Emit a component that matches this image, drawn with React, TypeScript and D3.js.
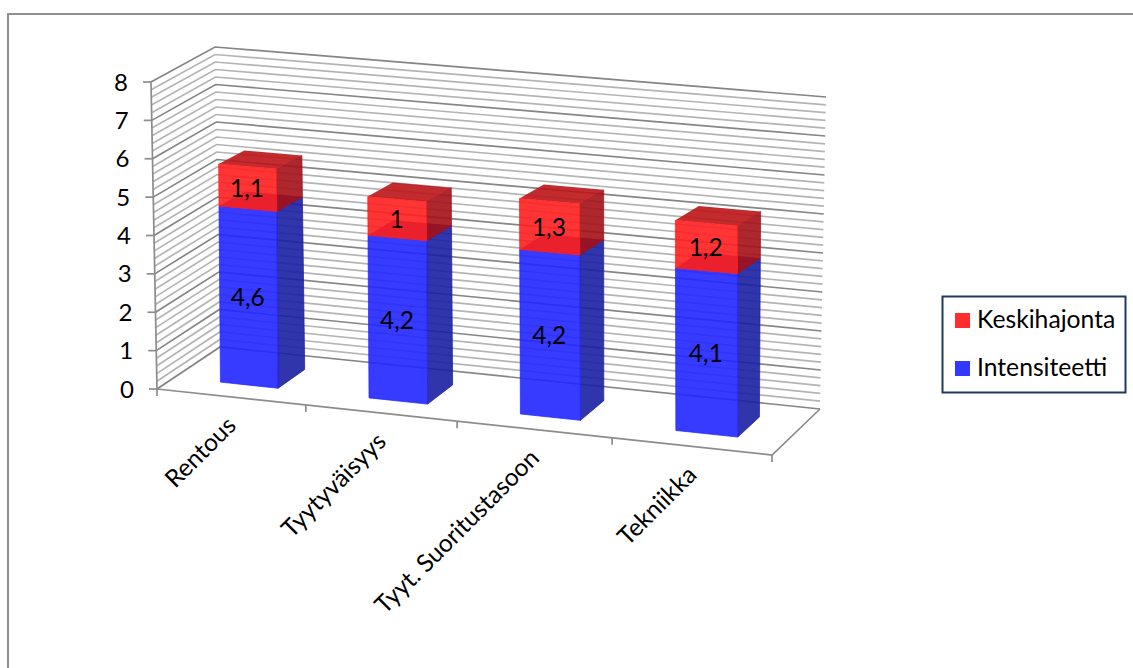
import React from "react";
import * as d3 from "d3";

// Chart values
const categories = ["Rentous", "Tyytyväisyys", "Tyyt. Suoritustasoon", "Tekniikka"];
const intensiteetti = [4.6, 4.2, 4.2, 4.1];
const keskihajonta = [1.1, 1, 1.3, 1.2];
const valueTicks = [0, 1, 2, 3, 4, 5, 6, 7, 8];
const minorTicks = d3.range(0, 8.01, 0.2);
const categoryStops = [0, 1, 2, 3, 4];
const categoryFractions = [0, 0.242, 0.488, 0.74, 1];

const FONT = "Lato, 'Open Sans', sans-serif";
const WIDTH = 1133;
const HEIGHT = 668;

type Pt = [number, number];

// Corners of the 3D box on screen: floor and ceiling planes, front and back.
const floor = { fl: [157, 389] as Pt, fr: [772, 455] as Pt, bl: [220, 347] as Pt, br: [820, 409] as Pt };
const ceil = { fl: [151, 82] as Pt, fr: [765, 132] as Pt, bl: [215, 47] as Pt, br: [826, 97] as Pt };

const slotScale = d3.scaleLinear().domain(categoryStops).range(categoryFractions);
const heightScale = d3.scaleLinear().domain([0, 8]).range([0, 1]);
const mix = (a: number, b: number, t: number) => a + (b - a) * t;
const mixPt = (a: Pt, b: Pt, t: number): Pt => [mix(a[0], b[0], t), mix(a[1], b[1], t)];

const onPlane = (p: typeof floor, u: number, d: number): Pt =>
  mixPt(mixPt(p.fl, p.fr, u), mixPt(p.bl, p.br, u), d);

// Maps (category position, value, depth 0..1) onto the screen.
function project(slot: number, value: number, depth: number): Pt {
  const u = slotScale(slot);
  return mixPt(onPlane(floor, u, depth), onPlane(ceil, u, depth), heightScale(value));
}

const BAR_FROM = 0.31;
const BAR_TO = 0.7;
const DEPTH_FRONT = 0.28;
const DEPTH_BACK = 0.72;

// Bars stand more upright than the walls, and their depth shrinks towards the top.
const FRONT_LEAN = 3;
const BACK_DROP = 4;
function barPoint(slot: number, value: number, depth: number): Pt {
  const [x, y] = project(slot, value, depth);
  const h = heightScale(value);
  return depth === DEPTH_BACK ? [x, y + BACK_DROP * h] : [x + FRONT_LEAN * h, y];
}

const line = d3.line<Pt>();
const closed = (pts: Pt[]) => line(pts) + "Z";

const palette = {
  red: { front: "#ff1f1f", side: "#a30f17", top: "#bb1518" },
  blue: { front: "#2126ff", side: "#1a1fa3", top: "#1a1fa3" },
};

function Segment({ slot, v0, v1, colors }: { slot: number; v0: number; v1: number; colors: typeof palette.red }) {
  const a = slot + BAR_FROM;
  const b = slot + BAR_TO;
  const f = DEPTH_FRONT;
  const k = DEPTH_BACK;
  return (
    <g fillOpacity={0.9} strokeOpacity={0.9} strokeWidth={0.8}>
      <path
        d={closed([barPoint(b, v0, f), barPoint(b, v0, k), barPoint(b, v1, k), barPoint(b, v1, f)])}
        fill={colors.side}
        stroke={colors.side}
      />
      <path d={closed([barPoint(a, v1, f), barPoint(b, v1, f), barPoint(b, v1, k), barPoint(a, v1, k)])} fill={colors.top} />
      <path
        d={closed([barPoint(a, v0, f), barPoint(b, v0, f), barPoint(b, v1, f), barPoint(a, v1, f)])}
        fill={colors.front}
        stroke={colors.front}
      />
    </g>
  );
}

export default function App() {
  const isMajor = (v: number) => Math.abs(v - Math.round(v)) < 1e-6;
  return (
    <svg
      width={WIDTH}
      height={HEIGHT}
      style={{ position: "absolute", left: 0, top: 0, display: "block", background: "#fff" }}
      fontFamily={FONT}
    >
      {/* outer frame */}
      <path d={line([[8, HEIGHT], [8, 14], [WIDTH, 14]] as Pt[])!} fill="none" stroke="#8f8f8f" strokeWidth={2} />

      {/* wall gridlines */}
      {minorTicks.map((v) => (
        <path
          key={v}
          d={line([project(0, v, 0), project(0, v, 1), project(4, v, 1)])!}
          fill="none"
          stroke={isMajor(v) ? "#858585" : "#b4b4b4"}
          strokeWidth={1.7}
        />
      ))}

      {/* floor edges and value axis */}
      <path d={line([project(0, 0, 0), project(4, 0, 0), project(4, 0, 1)])!} fill="none" stroke="#8c8c8c" strokeWidth={1.7} />
      <path d={line([project(0, 0, 0), project(0, 8, 0)])!} fill="none" stroke="#8c8c8c" strokeWidth={1.7} />

      {valueTicks.map((v) => {
        const [x, y] = project(0, v, 0);
        return (
          <g key={v}>
            <line x1={x - 8} x2={x} y1={y} y2={y} stroke="#8c8c8c" strokeWidth={1.7} />
            <text x={x - 37} y={y + 8.5} fontSize={24} fill="#000">
              {v}
            </text>
          </g>
        );
      })}

      {categoryStops.map((s) => {
        const [x, y] = project(s, 0, 0);
        return <line key={s} x1={x} x2={x} y1={y} y2={y + 7} stroke="#8c8c8c" strokeWidth={1.7} />;
      })}

      {/* stacked bars */}
      {categories.map((c, i) => {
        const base = intensiteetti[i];
        const total = base + keskihajonta[i];
        return (
          <g key={c}>
            <Segment slot={i} v0={0} v1={base} colors={palette.blue} />
            <Segment slot={i} v0={base} v1={total} colors={palette.red} />
          </g>
        );
      })}

      {/* value labels */}
      {categories.map((c, i) => {
        const base = intensiteetti[i];
        const total = base + keskihajonta[i];
        const mid = i + 0.5;
        const [bx, by] = barPoint(mid, base / 2, DEPTH_FRONT);
        const [rx, ry] = barPoint(mid, (base + total) / 2, DEPTH_FRONT);
        const fmt = (v: number) => String(v).replace(".", ",");
        return (
          <g key={c} fontSize={24.5} textAnchor="middle" fill="#000">
            <text x={bx} y={by + 9.5}>{fmt(base)}</text>
            <text x={rx} y={ry + 9.5}>{fmt(keskihajonta[i])}</text>
          </g>
        );
      })}

      {/* category labels */}
      {categories.map((c, i) => {
        const [x, y] = project(i + 0.5, 0, 0);
        return (
          <text
            key={c}
            transform={`translate(${x + 6},${y + 30}) rotate(-45)`}
            textAnchor="end"
            fontSize={24.5}
            fill="#000"
          >
            {c}
          </text>
        );
      })}

      {/* legend */}
      <rect x={942.5} y={296.5} width={183} height={96} fill="#fff" stroke="#1f3a5f" strokeWidth={2} />
      <rect x={955} y={313} width={15} height={15} fill="#ff2d2d" />
      <rect x={955} y={361} width={15} height={15} fill="#3338ff" />
      <text x={977} y={328} fontSize={24.7} fill="#000">Keskihajonta</text>
      <text x={977} y={376} fontSize={24.7} fill="#000">Intensiteetti</text>
    </svg>
  );
}
